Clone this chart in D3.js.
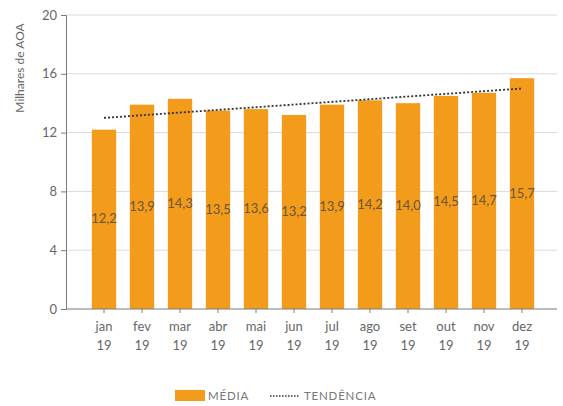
<!DOCTYPE html>
<html><head><meta charset="utf-8">
<script src="https://cdn.jsdelivr.net/npm/d3@7"></script>
<style>body{margin:0;background:#fff}svg{display:block}text{font-family:Lato,"Open Sans",sans-serif}</style>
</head><body>
<script>
const months = ["jan","fev","mar","abr","mai","jun","jul","ago","set","out","nov","dez"];
const years = ["19","19","19","19","19","19","19","19","19","19","19","19"];
const media = [12.2,13.9,14.3,13.5,13.6,13.2,13.9,14.2,14.0,14.5,14.7,15.7];
const trendEnds = [13.0, 15.0]; // TENDÊNCIA at jan 19 and dez 19
const yTicks = [0,4,8,12,16,20];
const legendLabels = ["MÉDIA","TENDÊNCIA"];

const W=563,H=406;
const svg=d3.select("body").append("svg").attr("width",W).attr("height",H);
const x=d3.scaleBand().domain(months).range([85,541]).paddingInner(0.36).paddingOuter(0.18);
const y=d3.scaleLinear().domain([0,20]).range([309,15]);
const gray="#7a7a7a";

// gridlines
svg.append("g").selectAll("line").data(yTicks.filter(d=>d>0)).join("line")
  .attr("x1",66).attr("x2",557).attr("y1",d=>y(d)).attr("y2",d=>y(d))
  .attr("stroke","#d9d9d9").attr("stroke-width",1);

// bars
svg.append("g").selectAll("rect").data(media).join("rect")
  .attr("x",(d,i)=>x(months[i])).attr("width",x.bandwidth())
  .attr("y",d=>y(d)).attr("height",d=>y(0)-y(d)).attr("fill","#f39b1b");

// value labels
svg.append("g").selectAll("text").data(media).join("text")
  .attr("x",(d,i)=>x(months[i])+x.bandwidth()/2).attr("y",d=>(y(d)+y(0))/2+4)
  .attr("text-anchor","middle").attr("font-size",13).attr("fill","#6b5636")
  .text(d=>d.toFixed(1).replace(".",","));

// trend
const trendX=[x(months[0])+x.bandwidth()/2, x(months[11])+x.bandwidth()/2];
svg.append("path").datum(trendEnds)
  .attr("d",d3.line().x((d,i)=>trendX[i]).y(d=>y(d)))
  .attr("stroke","#333").attr("stroke-width",1.8).attr("stroke-dasharray","2,2").attr("fill","none");

// y axis
const ya=svg.append("g").attr("transform","translate(66,0)")
  .call(d3.axisLeft(y).tickValues(yTicks).tickSize(5).tickPadding(4));
ya.selectAll("path,line").attr("stroke",gray);
ya.selectAll("text").attr("font-size",13).attr("fill","#666").style("font-family","Lato,sans-serif");

// x axis
const xa=svg.append("g").attr("transform","translate(0,309)");
xa.append("line").attr("x1",66).attr("x2",557).attr("stroke",gray);
xa.selectAll("line.t").data(months).join("line").attr("class","t")
  .attr("x1",d=>x(d)+x.bandwidth()/2).attr("x2",d=>x(d)+x.bandwidth()/2)
  .attr("y1",0).attr("y2",4).attr("stroke",gray);
xa.selectAll("text.m").data(months).join("text").attr("class","m")
  .attr("x",d=>x(d)+x.bandwidth()/2).attr("y",22).attr("text-anchor","middle")
  .attr("font-size",13).attr("fill","#666").text(d=>d);
xa.selectAll("text.yr").data(years).join("text").attr("class","yr")
  .attr("x",(d,i)=>x(months[i])+x.bandwidth()/2).attr("y",41).attr("text-anchor","middle")
  .attr("font-size",13).attr("fill","#666").text(d=>d);

// y label
svg.append("text").attr("transform","translate(24,68) rotate(-90)")
  .attr("text-anchor","middle").attr("font-size",12).attr("fill","#666").text("Milhares de AOA");

// legend
const lg=svg.append("g");
lg.append("rect").attr("x",175).attr("y",390).attr("width",30).attr("height",11).attr("fill","#f39b1b");
lg.append("text").attr("x",208).attr("y",400).attr("font-size",11.5).attr("letter-spacing",0.8).attr("fill","#777").text(legendLabels[0]);
lg.append("line").attr("x1",270).attr("x2",299).attr("y1",396).attr("y2",396)
  .attr("stroke","#333").attr("stroke-width",1.5).attr("stroke-dasharray","1.5,1.5");
lg.append("text").attr("x",304).attr("y",400).attr("font-size",11.5).attr("letter-spacing",0.8).attr("fill","#777").text(legendLabels[1]);
</script>
</body></html>
